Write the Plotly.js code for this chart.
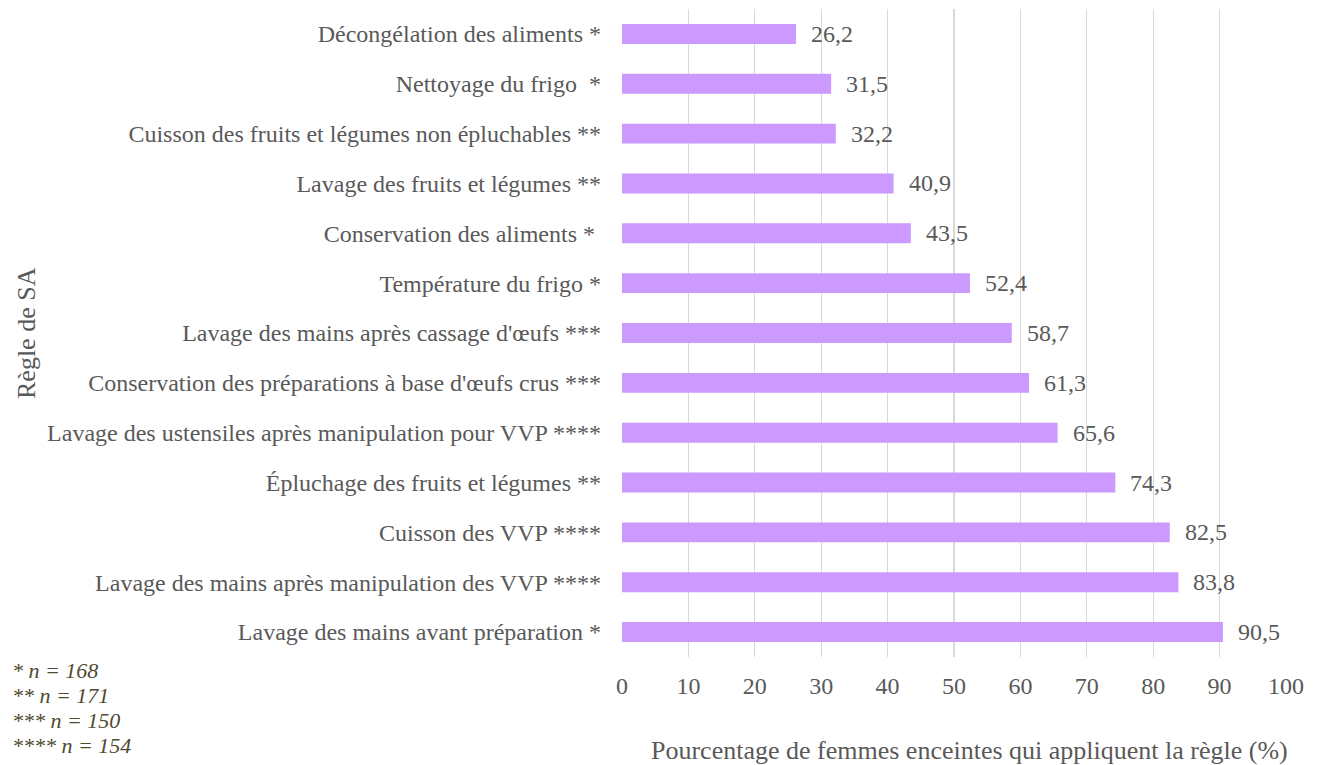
<!DOCTYPE html>
<html><head><meta charset="utf-8">
<script src="https://cdn.plot.ly/plotly-3.0.1.min.js"></script>
<style>html,body{margin:0;padding:0;background:#fff}</style>
</head><body>
<div id="chart" style="width:1321px;height:765px"></div>
<script>
const categories = [
  "Décongélation des aliments *",
  "Nettoyage du frigo  *",
  "Cuisson des fruits et légumes non épluchables **",
  "Lavage des fruits et légumes **",
  "Conservation des aliments * ",
  "Température du frigo *",
  "Lavage des mains après cassage d'œufs ***",
  "Conservation des préparations à base d'œufs crus ***",
  "Lavage des ustensiles après manipulation pour VVP ****",
  "Épluchage des fruits et légumes **",
  "Cuisson des VVP ****",
  "Lavage des mains après manipulation des VVP ****",
  "Lavage des mains avant préparation *"
];
const values = [26.2, 31.5, 32.2, 40.9, 43.5, 52.4, 58.7, 61.3, 65.6, 74.3, 82.5, 83.8, 90.5];
const footnotes = ["* n = 168", "** n = 171", "*** n = 150", "**** n = 154"];
const xTitle = "Pourcentage de femmes enceintes qui appliquent la règle (%)";
const yTitle = "Règle de SA";

const font = "'Liberation Serif', 'Times New Roman', serif";
const txt = "#595959";
const plotW = 664, plotH = 648, L = 622, T = 9;

const annotations = values.map((v, i) => ({
  x: v, y: categories[i], xref: "x", yref: "y",
  text: v.toFixed(1).replace(".", ","), showarrow: false,
  xanchor: "left", xshift: 13, font: {family: font, size: 24, color: txt}
}));
footnotes.forEach((f, i) => {
  annotations.push({
    xref: "paper", yref: "paper", x: (10 - L) / plotW, y: 1 - (670 + 25.3 * i - T) / plotH,
    xanchor: "left", yanchor: "middle", showarrow: false,
    text: "<i>" + f + "</i>", font: {family: font, size: 22, color: "#4f4a30"}
  });
});
annotations.push({
  xref: "paper", yref: "paper", x: (969 - L) / plotW, y: 1 - (750 - T) / plotH,
  xanchor: "center", yanchor: "middle",
  showarrow: false, text: xTitle, font: {family: font, size: 26, color: txt}
});
annotations.push({
  xref: "paper", yref: "paper", x: (26 - L) / plotW, y: 1 - (333 - T) / plotH,
  xanchor: "center", yanchor: "middle", textangle: -90,
  showarrow: false, text: yTitle, font: {family: font, size: 26, color: txt}
});

Plotly.newPlot("chart", [{
  type: "bar", orientation: "h", x: values, y: categories,
  marker: {color: "#CC99FF"}, width: 0.4, hoverinfo: "x+y"
}], {
  width: 1321, height: 765,
  margin: {l: L, r: 1321 - L - plotW, t: T, b: 765 - T - plotH},
  paper_bgcolor: "#fff", plot_bgcolor: "#fff",
  font: {family: font, size: 24, color: txt},
  showlegend: false,
  xaxis: {
    range: [0, 100], dtick: 10, tick0: 0, showgrid: true, gridcolor: "#d9d9d9", gridwidth: 1.3,
    zeroline: false, showline: false, ticks: "", ticklabelstandoff: 12,
    tickfont: {family: font, size: 24, color: txt}, fixedrange: true
  },
  yaxis: {
    autorange: "reversed", showgrid: false, zeroline: false, showline: false, ticks: "",
    ticklabelstandoff: 20, tickfont: {family: font, size: 24, color: txt}
  },
  annotations: annotations
}, {displayModeBar: false, staticPlot: true});
</script>
</body></html>
